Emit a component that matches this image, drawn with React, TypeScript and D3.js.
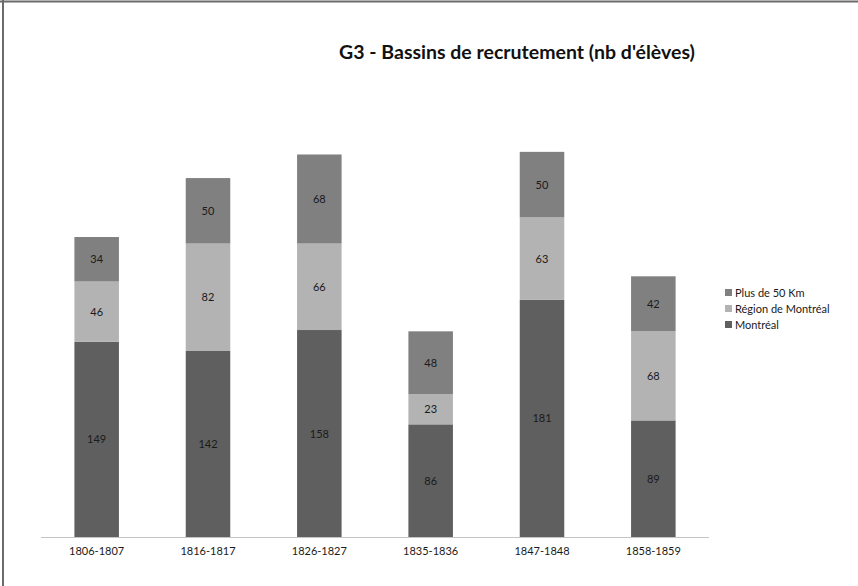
import { useEffect, useRef } from 'react';
import * as d3 from 'd3';

const periods = ['1806-1807', '1816-1817', '1826-1827', '1835-1836', '1847-1848', '1858-1859'];
const montreal = [149, 142, 158, 86, 181, 89];
const regionMontreal = [46, 82, 66, 23, 63, 68];
const plusDe50 = [34, 50, 68, 48, 50, 42];
const seriesNames = ['Montréal', 'Région de Montréal', 'Plus de 50 Km'];
const seriesColors = ['#5f5f5f', '#b3b3b3', '#808080'];

export default function App() {
    const svgRef = useRef<SVGSVGElement>(null);

    useEffect(() => {
        if (!svgRef.current) return;
        const W = 858, H = 586;
        const font = 'Lato, "Open Sans", sans-serif';

        const rows = periods.map((p, i) => ({
            period: p,
            'Montréal': montreal[i],
            'Région de Montréal': regionMontreal[i],
            'Plus de 50 Km': plusDe50[i],
        }));

        const x = d3.scaleBand().domain(periods).range([41, 709]).paddingInner(0.6).paddingOuter(0.3);
        const y = d3.scaleLinear().domain([0, 300]).range([537, 144]);
        const color = d3.scaleOrdinal<string, string>().domain(seriesNames).range(seriesColors);

        const stacked = d3.stack<any>().keys(seriesNames)(rows);

        const svg = d3.select(svgRef.current);
        svg.selectAll('*').remove();
        svg.attr('width', W).attr('height', H);

        svg.append('rect').attr('width', W).attr('height', H).attr('fill', '#fff');

        // frame (top + left only visible)
        svg.append('line').attr('x1', 0).attr('x2', W).attr('y1', 1.5).attr('y2', 1.5)
            .attr('stroke', '#6b6b6b').attr('stroke-width', 2);
        svg.append('line').attr('x1', 3).attr('x2', 3).attr('y1', 0).attr('y2', H)
            .attr('stroke', '#6b6b6b').attr('stroke-width', 2);

        svg.append('text')
            .attr('x', 517).attr('y', 59)
            .attr('text-anchor', 'middle')
            .attr('font-family', font).attr('font-weight', 'bold').attr('font-size', 19.5)
            .attr('fill', '#111')
            .text("G3 - Bassins de recrutement (nb d'élèves)");

        const layers = svg.append('g').selectAll('g')
            .data(stacked)
            .join('g')
            .attr('fill', d => color(d.key));

        layers.selectAll('rect')
            .data(d => d)
            .join('rect')
            .attr('x', d => x(d.data.period)!)
            .attr('y', d => y(d[1]))
            .attr('width', x.bandwidth())
            .attr('height', d => y(d[0]) - y(d[1]));

        layers.selectAll('text')
            .data(d => d)
            .join('text')
            .attr('x', d => x(d.data.period)! + x.bandwidth() / 2)
            .attr('y', d => (y(d[0]) + y(d[1])) / 2 + 4)
            .attr('text-anchor', 'middle')
            .attr('font-family', font).attr('font-size', 11)
            .attr('fill', '#1a1a1a')
            .text(d => String(d[1] - d[0]));

        // x axis
        svg.append('line')
            .attr('x1', 41).attr('x2', 709).attr('y1', 537.5).attr('y2', 537.5)
            .attr('stroke', '#c4c4c4').attr('stroke-width', 1);

        svg.append('g').selectAll('text')
            .data(periods)
            .join('text')
            .attr('x', d => x(d)! + x.bandwidth() / 2)
            .attr('y', 555)
            .attr('text-anchor', 'middle')
            .attr('font-family', font).attr('font-size', 11)
            .attr('fill', '#1a1a1a')
            .text(d => d);

        // legend (top-down: reverse of stack order)
        const legendItems = seriesNames.slice().reverse();
        const lg = svg.append('g').attr('transform', 'translate(725,289)');
        const li = lg.selectAll('g').data(legendItems).join('g')
            .attr('transform', (_, i) => `translate(0,${i * 16})`);
        li.append('rect').attr('width', 7).attr('height', 7).attr('fill', d => color(d));
        li.append('text').attr('x', 10).attr('y', 7.5)
            .attr('font-family', font).attr('font-size', 11).attr('fill', '#1a1a1a')
            .text(d => d);
    }, []);

    return (
        <div style={{ position: 'absolute', left: 0, top: 0 }}>
            <svg ref={svgRef} style={{ display: 'block' }} />
        </div>
    );
}
